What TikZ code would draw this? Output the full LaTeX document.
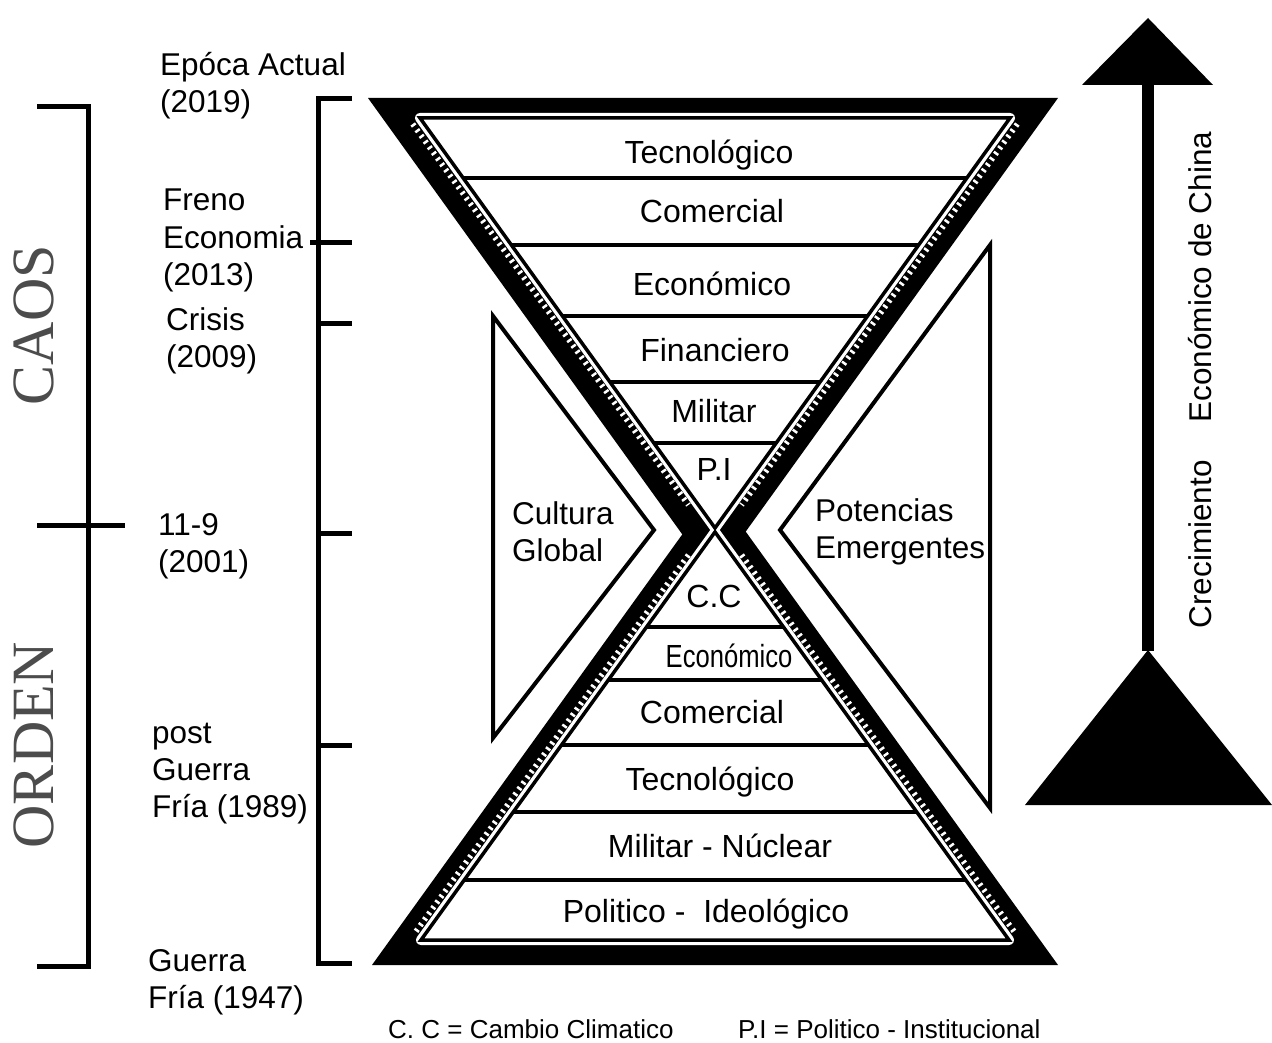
\documentclass[tikz,border=0pt]{standalone}
\usepackage{fontspec}
\setmainfont{Liberation Sans}
\newfontfamily\caosfont{Liberation Serif}
\usetikzlibrary{positioning}

\begin{document}
\begin{tikzpicture}[
    x=1pt, y=-1pt,
    font=\fontsize{31.5}{37}\selectfont,
    lbl/.style={anchor=base, inner sep=0pt, font=\fontsize{32}{37}\selectfont},
    era/.style={anchor=base west, inner sep=0pt, align=left},
    tick/.style={line width=5pt},
    grain/.style={white, line width=5.5pt, dash pattern=on 2.5pt off 4.5pt},
    gap/.style={draw=white, line width=10pt, line join=round},
    rim/.style={draw=black, line width=3.5pt, fill=white},
    layer/.style={line width=3.5pt},
    side/.style={draw, line width=4pt, line join=miter},
    big/.style={font=\caosfont\fontsize{60}{60}\selectfont, rotate=90,
                inner sep=0pt, text=black!70},
    key/.style={anchor=base west, inner sep=0pt, font=\fontsize{26}{30}\selectfont}]

  \useasboundingbox (0,0) rectangle (1272,1043);

  % ---- left: CAOS / ORDEN bracket --------------------------------------
  \draw[tick] (37,107) -- (88,107) -- (88,966) -- (37,966);
  \draw[tick] (37,525) -- (125,525);
  \node[big] (caos)  at (34,325) {CAOS};
  \node[big] (orden) at (34,745) {ORDEN};

  % ---- timeline (base = last line) -------------------------------------
  \draw[tick] (352,99) -- (318,99) -- (318,963) -- (352,963);
  \draw[tick] (310,243) -- (352,243);
  \foreach \y in {323,533,745}
    \draw[tick] (318,\y) -- (352,\y);
  \node[era] (actual) at (160,113) {Epóca Actual\\(2019)};
  \node[era] (freno)  at (163,285) {Freno\\Economia\\(2013)};
  \node[era] (crisis) at (166,367) {Crisis\\(2009)};
  \node[era] (once)   at (158,572) {11-9\\(2001)};
  \node[era] (post)   at (152,817) {post\\Guerra\\Fría (1989)};
  \node[era] (fria)   at (148,1008) {Guerra\\Fría (1947)};

  % ---- hourglass frame -------------------------------------------------
  \fill (368,98) -- (1058,98) -- (713,577) -- cycle;
  \fill (372,965) -- (1058,965) -- (715,489) -- cycle;
  \draw[grain] (412.7,124) -- (688.4,505);
  \draw[grain] (1017.3,124) -- (741.6,505);
  \draw[grain] (688.4,555) -- (414.1,934);
  \draw[grain] (741.6,555) -- (1015.9,934);

  \coordinate (tl) at (420,118);
  \coordinate (tr) at (1010,118);
  \coordinate (tc) at (715,528);
  \coordinate (bl) at (421,940);
  \coordinate (br) at (1009,940);
  \coordinate (bc) at (715,532);
  \draw[gap] (tl) -- (tr) -- (tc) -- cycle;
  \draw[gap] (bl) -- (br) -- (bc) -- cycle;
  \draw[rim] (tl) -- (tr) -- (tc) -- cycle;
  \draw[rim] (bl) -- (br) -- (bc) -- cycle;

  \begin{scope}
    \clip (tl) -- (tr) -- (tc) -- cycle;
    \foreach \y in {178,245,316,382,443}
      \draw[layer] (380,\y) -- (1050,\y);
  \end{scope}
  \begin{scope}
    \clip (bl) -- (br) -- (bc) -- cycle;
    \foreach \y in {627,680,745,812,880}
      \draw[layer] (380,\y) -- (1050,\y);
  \end{scope}

  % ---- layers, top half ------------------------------------------------
  \node[lbl] (tec1) at (709,164) {Tecnológico};
  \node[lbl] (com1) at (712,223) {Comercial};
  \node[lbl] (eco1) at (712,295) {Económico};
  \node[lbl] (fin)  at (715,361) {Financiero};
  \node[lbl] (mil)  at (714,422) {Militar};
  \node[lbl] (pi)   at (714,480) {P.I};

  % ---- layers, bottom half ---------------------------------------------
  \node[lbl] (cc)   at (714,607) {C.C};
  \node[lbl] (eco2) at (729,667) {\scalebox{0.8}[1]{Económico}};
  \node[lbl] (com2) at (712,723) {Comercial};
  \node[lbl] (tec2) at (710,790) {Tecnológico};
  \node[lbl] (nuc)  at (720,857) {Militar - Núclear};
  \node[lbl] (pol)  at (706,922) {Politico -\ \ Ideológico};

  % ---- side wedges -----------------------------------------------------
  \draw[side] (493,316) -- (654,530) -- (493,738) -- cycle;
  \draw[side] (990,245) -- (780,530) -- (990,808) -- cycle;
  \node[era] (cult) at (512,561) {Cultura\\Global};
  \node[era] (pot)  at (815,558) {Potencias\\Emergentes};

  % ---- growth arrow ----------------------------------------------------
  \fill (1148,18) -- (1213,85) -- (1082,85) -- cycle;
  \fill (1148,650) -- (1272,805) -- (1025,805) -- cycle;
  \draw[line width=12pt] (1148,84) -- (1148,651);
  \node[rotate=90, inner sep=0pt] (china) at (1200,380)
    {Crecimiento\hspace{1.2em}Económico de China};

  % ---- legend ----------------------------------------------------------
  \node[key] (kcc) at (388,1038) {C. C = Cambio Climatico};
  \node[key] (kpi) at (738,1038) {P.I = Politico - Institucional};
\end{tikzpicture}
\end{document}
